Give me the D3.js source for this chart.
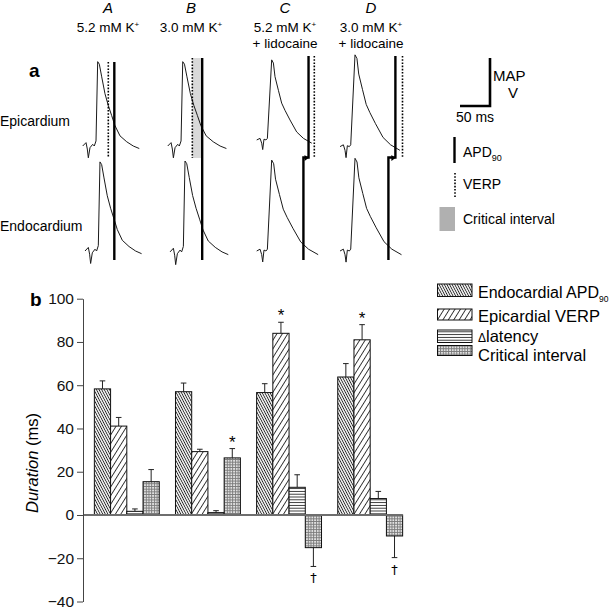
<!DOCTYPE html>
<html>
<head>
<meta charset="utf-8">
<script src="https://cdn.jsdelivr.net/npm/d3@7"></script>
<style>
  html, body { margin: 0; padding: 0; background: #fff; }
  svg { display: block; font-family: "Liberation Sans", Arial, sans-serif; }
</style>
</head>
<body>
<svg id="chart" width="609" height="609"></svg>
<script>
// ---------------- DATA ----------------
const conditions = ["A", "B", "C", "D"];
const conditionLine1 = ["5.2 mM K", "3.0 mM K", "5.2 mM K", "3.0 mM K"];
const conditionLine2 = ["", "", "+ lidocaine", "+ lidocaine"];
const rows = ["Epicardium", "Endocardium"];

// MAP waveform templates: [time ms, % of amplitude]
const controlTemplate = [[0,0],[5.2,4],[7.2,-3.6],[8.8,-14],[11.4,-2],[15.6,2],[18.1,0],[20.8,6],[23.4,100],[26,97],[29.7,82],[34.8,62],[40,48],[45.3,36],[50.5,24],[58.3,12],[68.8,5],[79,0],[88.4,-3]];
const lidoTemplate = [[0,0],[5.2,2],[7.8,-4],[9.4,-12],[11.4,1],[14.5,0],[16.7,2],[23.4,100],[26.1,96],[28.6,79],[33.9,62],[39,46],[44.2,37],[52,25],[62.5,10],[73,2],[86,-4]];

// per trace: condition, row, time shift (ms), post-peak stretch, amplitude (a.u.), baseline offset (a.u.)
const traceCond    = ["A","A","B","B","C","C","D","D"];
const traceRow     = ["Epicardium","Endocardium","Epicardium","Endocardium","Epicardium","Endocardium","Epicardium","Endocardium"];
const traceShift   = [0, 3.6, 3.2, 6.8, 0, 0, -5.1, -5.1];
const traceStretch = [1, 1, 1.05, 1.04, 1, 1.16, 1.12, 1.16];
const traceAmp     = [93.7, 99, 93.7, 101, 89, 101, 102, 103];
const traceBase    = [0, 0, 0, -1, 6.7, 0, -0.7, 0];

// marker times (ms from trace start) per condition
const verpTime    = [40, 41.6, 90, 92.5];
const apdEpiTime  = [49.4, 57, 81, 81.4];
const apdEndoTime = [49.4, 57, 73, 70.5];
const showCritical = [false, true, false, false];

// bar chart
const groups = ["A", "B", "C", "D"];
const seriesNames = ["Endocardial APD", "Epicardial VERP", "latency", "Critical interval"];
const apdEndo     = [58.3, 57.0, 56.6, 63.8];
const apdEndoErr  = [3.7, 4.0, 4.1, 6.2];
const verpEpi     = [41.1, 29.3, 84.0, 81.0];
const verpEpiErr  = [4.0, 1.1, 5.1, 7.0];
const dLatency    = [1.7, 1.1, 12.8, 7.6];
const dLatencyErr = [1.1, 0.9, 5.8, 3.3];
const critical    = [15.4, 26.4, -15.1, -9.7];
const criticalErr = [5.6, 4.3, 8.7, 10.0];
const starMarks   = [["B", 3], ["C", 1], ["D", 1]];
const daggerMarks = [["C", 3], ["D", 3]];
const yTicks = [-40, -20, 0, 20, 40, 60, 80, 100];

// ---------------- DRAW ----------------
const svg = d3.select("#chart");
const defs = svg.append("defs");
const font = '"Liberation Sans", Arial, sans-serif';

function linePattern(id, spacing, angle, color, w) {
  const p = defs.append("pattern").attr("id", id).attr("patternUnits", "userSpaceOnUse")
    .attr("width", 10).attr("height", spacing).attr("patternTransform", `rotate(${angle})`);
  p.append("rect").attr("width", 10).attr("height", spacing).attr("fill", "#fff");
  p.append("line").attr("x1", 0).attr("x2", 10).attr("y1", spacing / 2).attr("y2", spacing / 2)
    .attr("stroke", color).attr("stroke-width", w);
}
linePattern("pApd", 2.3, 62, "#222", 0.9);
linePattern("pVerp", 4.6, -58, "#222", 0.9);
linePattern("pLat", 2.8, 0, "#222", 0.9);
{
  const p = defs.append("pattern").attr("id", "pCrit").attr("patternUnits", "userSpaceOnUse")
    .attr("width", 2.7).attr("height", 2.7);
  p.append("rect").attr("width", 2.7).attr("height", 2.7).attr("fill", "#e6e6e6");
  p.append("path").attr("d", "M0,0.5H2.7M0.5,0V2.7").attr("stroke", "#7a7a7a").attr("stroke-width", 1);
}
const fills = ["url(#pApd)", "url(#pVerp)", "url(#pLat)", "url(#pCrit)"];

// ===== Panel a =====
const colOrigin = {A: 82.7, B: 165.7, C: 256.7, D: 343.3};
const headerCenter = {A: 108, B: 191, C: 285, D: 371};
const tScale = d3.scaleLinear().domain([0, 100]).range([0, 64]);   // ms -> px
const vScale = d3.scaleLinear().domain([0, 100]).range([0, 90]);   // a.u. -> px
const rowBaseline = {Epicardium: 146, Endocardium: 251};

// headers
conditions.forEach((c, i) => {
  const cx = headerCenter[c];
  svg.append("text").attr("x", cx).attr("y", 13).attr("text-anchor", "middle")
    .attr("font-size", 15).attr("font-style", "italic").text(c);
  const t = svg.append("text").attr("x", cx).attr("y", 32).attr("text-anchor", "middle").attr("font-size", 13.5);
  t.append("tspan").text(conditionLine1[i]);
  t.append("tspan").attr("font-size", 8).attr("dy", -5).text("+");
  if (conditionLine2[i]) {
    svg.append("text").attr("x", cx).attr("y", 48).attr("text-anchor", "middle").attr("font-size", 13.5).text(conditionLine2[i]);
  }
});
svg.append("text").attr("x", 29).attr("y", 77).attr("font-size", 19).attr("font-weight", "bold").text("a");
svg.append("text").attr("x", 0).attr("y", 126).attr("font-size", 14).text(rows[0]);
svg.append("text").attr("x", 0).attr("y", 231).attr("font-size", 14).text(rows[1]);

// critical interval shading
conditions.forEach((c, i) => {
  if (!showCritical[i]) return;
  const xa = colOrigin[c] + tScale(verpTime[i]);
  const xb = colOrigin[c] + tScale(apdEpiTime[i]);
  svg.append("rect").attr("x", xa).attr("y", 58).attr("width", xb - xa).attr("height", 100).attr("fill", "#d9d9d9");
});

// traces
const lineGen = d3.line().x(d => d[0]).y(d => d[1]);
traceCond.forEach((c, i) => {
  const tmpl = (c === "C" || c === "D") ? lidoTemplate : controlTemplate;
  const peakT = 23.4;
  const pts = tmpl.map(([t, v]) => {
    const tt = t <= peakT ? t : peakT + (t - peakT) * traceStretch[i];
    const x = colOrigin[c] + tScale(tt + traceShift[i]);
    const yy = rowBaseline[traceRow[i]] - vScale(traceBase[i] + v * traceAmp[i] / 100);
    return [x, yy];
  });
  svg.append("path").attr("d", lineGen(pts)).attr("fill", "none").attr("stroke", "#1a1a1a").attr("stroke-width", 1);
});

// VERP (dotted) and APD90 (solid) markers
conditions.forEach((c, i) => {
  const xv = colOrigin[c] + tScale(verpTime[i]);
  const xe = colOrigin[c] + tScale(apdEpiTime[i]);
  const xn = colOrigin[c] + tScale(apdEndoTime[i]);
  const top = (c === "A") ? 62 : (c === "B" ? 58 : 56);
  svg.append("line").attr("x1", xv).attr("x2", xv).attr("y1", top).attr("y2", 158)
    .attr("stroke", "#000").attr("stroke-width", 1.6).attr("stroke-dasharray", "1.6,1.6");
  if (Math.abs(xe - xn) < 0.5) {
    svg.append("line").attr("x1", xe).attr("x2", xe).attr("y1", top).attr("y2", 260)
      .attr("stroke", "#000").attr("stroke-width", 2.4);
  } else {
    svg.append("path").attr("d", `M${xe},${top}V157.5H${xn}V260`)
      .attr("fill", "none").attr("stroke", "#000").attr("stroke-width", 2.4);
    svg.append("path").attr("d", `M${xe - 4},155 L${xe},158 L${xe - 4},161Z`).attr("fill", "#000");
  }
});

// scale bar and legend of panel a
svg.append("path").attr("d", "M490,58V106H460").attr("fill", "none").attr("stroke", "#000").attr("stroke-width", 2.6);
svg.append("text").attr("x", 493).attr("y", 81).attr("font-size", 15).text("MAP");
svg.append("text").attr("x", 508).attr("y", 98).attr("font-size", 15).text("V");
svg.append("text").attr("x", 456).attr("y", 122).attr("font-size", 14).text("50 ms");
svg.append("line").attr("x1", 454.5).attr("x2", 454.5).attr("y1", 137).attr("y2", 163).attr("stroke", "#000").attr("stroke-width", 2.4);
{
  const t = svg.append("text").attr("x", 463).attr("y", 157).attr("font-size", 14);
  t.append("tspan").text("APD");
  t.append("tspan").attr("font-size", 9).attr("dy", 4).text("90");
}
svg.append("line").attr("x1", 455).attr("x2", 455).attr("y1", 173).attr("y2", 197)
  .attr("stroke", "#000").attr("stroke-width", 1.6).attr("stroke-dasharray", "1.6,1.6");
svg.append("text").attr("x", 463).attr("y", 189).attr("font-size", 14).text("VERP");
svg.append("rect").attr("x", 439.5).attr("y", 207).attr("width", 15.5).attr("height", 24).attr("fill", "#b0b0b0");
svg.append("text").attr("x", 463).attr("y", 224).attr("font-size", 14).text("Critical interval");

// ===== Panel b =====
const y = d3.scaleLinear().domain([-40, 100]).range([601.5, 298.7]);
const x0 = d3.scaleBand().domain(groups).range([83, 414]).paddingInner(0.2).paddingOuter(0.14);
const x1 = d3.scaleBand().domain(seriesNames).range([0, x0.bandwidth()]);

const values = [apdEndo, verpEpi, dLatency, critical];
const errs = [apdEndoErr, verpEpiErr, dLatencyErr, criticalErr];
const bars = [];
groups.forEach((g, gi) => seriesNames.forEach((s, si) => {
  bars.push({g, s, si, v: values[si][gi], e: errs[si][gi]});
}));

// error bars (behind)
const cap = 2.8;
bars.forEach(d => {
  const cx = x0(d.g) + x1(d.s) + x1.bandwidth() / 2;
  const yEnd = d.v >= 0 ? y(d.v + d.e) : y(d.v - d.e);
  svg.append("line").attr("x1", cx).attr("x2", cx).attr("y1", y(d.v)).attr("y2", yEnd).attr("stroke", "#222").attr("stroke-width", 1);
  svg.append("line").attr("x1", cx - cap).attr("x2", cx + cap).attr("y1", yEnd).attr("y2", yEnd).attr("stroke", "#222").attr("stroke-width", 1);
});

svg.append("g").selectAll("rect").data(bars).join("rect")
  .attr("x", d => x0(d.g) + x1(d.s))
  .attr("y", d => y(Math.max(0, d.v)))
  .attr("width", x1.bandwidth())
  .attr("height", d => Math.abs(y(d.v) - y(0)))
  .attr("fill", d => fills[d.si])
  .attr("stroke", "#111").attr("stroke-width", 1);

// zero line
const lastX = x0(groups[groups.length - 1]) + x0.bandwidth();
svg.append("line").attr("x1", 83).attr("x2", lastX).attr("y1", y(0)).attr("y2", y(0)).attr("stroke", "#6e6e6e").attr("stroke-width", 1.8);

// axis
const axis = svg.append("g").attr("transform", "translate(83,0)")
  .call(d3.axisLeft(y).tickValues(yTicks).tickSize(6).tickSizeOuter(0).tickPadding(3));
axis.select(".domain").attr("stroke", "#444");
axis.selectAll(".tick line").attr("stroke", "#444");
axis.selectAll(".tick text").attr("font-size", 15.5).attr("font-family", font).attr("fill", "#111");

// significance marks
starMarks.forEach(([g, si]) => {
  const cx = x0(g) + x1(seriesNames[si]) + x1.bandwidth() / 2;
  const v = values[si][groups.indexOf(g)], e = errs[si][groups.indexOf(g)];
  svg.append("text").attr("x", cx).attr("y", y(v + e) - 1).attr("text-anchor", "middle").attr("font-size", 17).attr("fill", "#000").text("*");
});
daggerMarks.forEach(([g, si]) => {
  const cx = x0(g) + x1(seriesNames[si]) + x1.bandwidth() / 2;
  const v = values[si][groups.indexOf(g)], e = errs[si][groups.indexOf(g)];
  svg.append("text").attr("x", cx).attr("y", y(v - e) + 16).attr("text-anchor", "middle")
    .attr("font-family", '"DejaVu Sans", "Liberation Serif", serif').attr("font-size", 13).attr("fill", "#000").text("\u2020");
});

svg.append("text").attr("x", 30).attr("y", 306).attr("font-size", 19).attr("font-weight", "bold").text("b");
{
  const t = svg.append("text").attr("transform", "translate(38,463) rotate(-90)").attr("text-anchor", "middle").attr("font-size", 16.5);
  t.append("tspan").attr("font-style", "italic").text("Duration");
  t.append("tspan").text(" (ms)");
}

// legend b
const legTops = [284, 309, 330, 345.5];
const legH = [12.5, 11, 12.5, 10];
const legBase = [298, 322, 342, 361];
seriesNames.forEach((s, i) => {
  svg.append("rect").attr("x", 437.5).attr("y", legTops[i]).attr("width", 34.5).attr("height", legH[i])
    .attr("fill", fills[i]).attr("stroke", "#111").attr("stroke-width", 1);
  const t = svg.append("text").attr("x", 478).attr("y", legBase[i]).attr("font-size", i === 0 ? 16 : 16.5);
  if (i === 2) {
    t.append("tspan").attr("font-size", 12).text("\u0394");
    t.append("tspan").text(s);
  } else if (i === 0) {
    t.append("tspan").text(s);
    t.append("tspan").attr("font-size", 8.5).attr("dy", 4).text("90");
  } else {
    t.text(s);
  }
});
</script>
</body>
</html>
